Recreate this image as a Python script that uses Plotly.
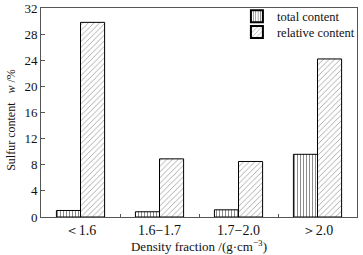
import plotly.graph_objects as go

categories = ["＜1.6", "1.6−1.7", "1.7−2.0", "＞2.0"]
total_content = [1.0, 0.8, 1.1, 9.6]
relative_content = [29.8, 8.9, 8.5, 24.2]
y_ticks = [0, 4, 8, 12, 16, 20, 24, 28, 32]

font = dict(family="Liberation Serif, Times New Roman, serif", size=13, color="#111")

fig = go.Figure()
fig.add_trace(go.Bar(
    x=categories, y=total_content, name="total content", legend="legend",
    marker=dict(color="white", line=dict(color="black", width=1),
                pattern=dict(shape="|", fgcolor="black", bgcolor="white", size=3, solidity=0.3)),
))
fig.add_trace(go.Bar(
    x=categories, y=relative_content, name="relative content", legend="legend2",
    marker=dict(color="white", line=dict(color="black", width=1),
                pattern=dict(shape="/", fgcolor="#333", bgcolor="white", size=4, solidity=0.2)),
))

leg_common = dict(xanchor="left", yanchor="top", bgcolor="rgba(0,0,0,0)",
                  font=dict(size=12.5), itemsizing="constant")

fig.update_layout(
    width=363, height=255,
    margin=dict(l=41, r=6, t=8, b=38, autoexpand=False),
    paper_bgcolor="white", plot_bgcolor="white",
    font=font,
    barmode="group", bargap=0.39, bargroupgap=0,
    showlegend=True,
    legend=dict(x=0.62, y=1.03, **leg_common),
    legend2=dict(x=0.62, y=0.955, **leg_common),
    xaxis=dict(
        range=[-0.5, 3.5], showline=True, linecolor="#555", linewidth=1, mirror=True,
        ticks="inside", ticklen=3, tickcolor="#555", tickson="boundaries",
        showgrid=False, tickfont=dict(size=14), automargin=False,
        title=dict(text="Density fraction /(g·cm<sup>−3</sup>)", font=dict(size=13), standoff=2),
    ),
    yaxis=dict(
        range=[0, 32], tickvals=y_ticks, showline=True, linecolor="#555", linewidth=1, mirror=True,
        ticks="inside", ticklen=4, tickcolor="#555", showgrid=False, zeroline=False,
        tickfont=dict(size=13), automargin=False,
        title=dict(text="Sulfur content" + "&nbsp;" * 3 + "<i>w</i> /%" + "&nbsp;" * 5,
                   font=dict(size=12), standoff=6),
    ),
)

fig.write_html("out.html", config={"displayModeBar": False},
               post_script="document.body.style.margin='0';document.body.style.overflow='hidden';")
